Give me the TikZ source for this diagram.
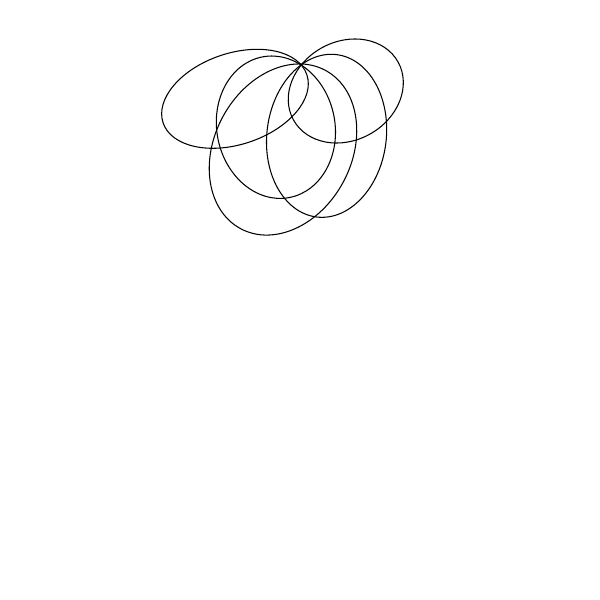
\documentclass[tikz,border=0pt]{standalone}
\begin{document}
\begin{tikzpicture}[x=0.2mm,y=-0.2mm,
  petal/.style={draw,black,line width=0.6pt}]
\useasboundingbox (0,0) rectangle (600,600);
% centres of the five loops
\coordinate (cA) at (235,98.8);
\coordinate (cB) at (275.9,127.2);
\coordinate (cC) at (283,149.5);
\coordinate (cD) at (326.6,135.8);
\coordinate (cE) at (345.8,91);
\draw[petal,rotate around={18.5:(cA)}] (cA) ellipse [x radius=75.8, y radius=45.6];
\draw[petal,rotate around={100.8:(cB)}] (cB) ellipse [x radius=71.6, y radius=59.1];
\draw[petal,rotate around={61.95:(cC)}] (cC) ellipse [x radius=89.8, y radius=68.5];
\draw[petal,rotate around={82.96:(cD)}] (cD) ellipse [x radius=81.8, y radius=59.7];
\draw[petal,rotate around={28.95:(cE)}] (cE) ellipse [x radius=59.8, y radius=49.4];
\end{tikzpicture}
\end{document}
